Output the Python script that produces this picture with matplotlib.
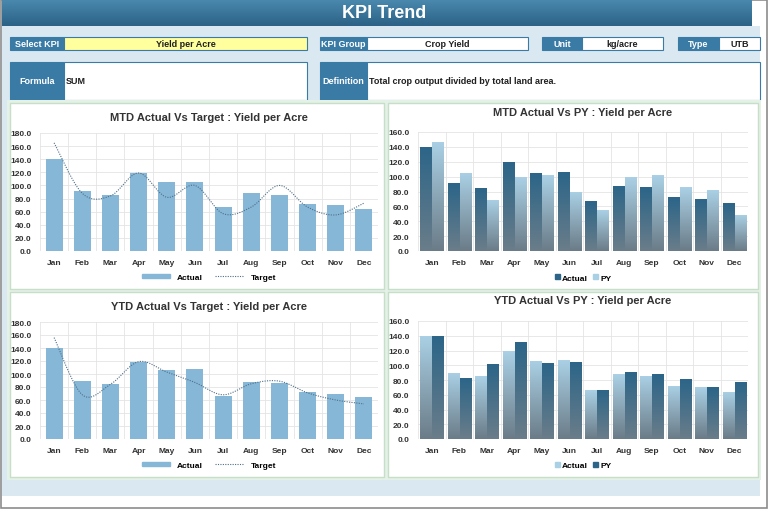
import numpy as np
import matplotlib

matplotlib.use("Agg")
import matplotlib.pyplot as plt
from matplotlib.patches import Rectangle
from matplotlib.lines import Line2D

plt.rcParams["font.family"] = ["Liberation Sans Narrow", "Liberation Sans", "DejaVu Sans"]

W, H = 768, 510

months = ["Jan", "Feb", "Mar", "Apr", "May", "Jun", "Jul", "Aug", "Sep", "Oct", "Nov", "Dec"]

mtd_actual = [140, 91, 85, 119, 105, 106, 67, 88, 86, 72, 70, 64]
mtd_target = [165, 88, 84, 119, 82, 100, 57, 67, 100, 67, 55, 73]
mtd_py = [147, 105, 69, 99, 102, 80, 55, 99, 102, 86, 82, 49]

ytd_actual = [140, 90, 85, 119, 106, 107, 66, 88, 86, 72, 70, 64]
ytd_target = [156, 68, 84, 119, 103, 87, 68, 85, 89, 71, 60, 54]
ytd_py = [140, 83, 102, 131, 103, 105, 67, 91, 88, 81, 70, 77]

kpi_name = "Yield per Acre"
kpi_group = "Crop Yield"
kpi_unit = "kg/acre"
kpi_type = "UTB"
kpi_formula = "SUM"
kpi_definition = "Total crop output divided by total land area."

HEAD_BLUE = "#3A7BA6"
BAR_LIGHT = "#86B7D6"
DARK_TOP, DARK_BOT = "#2C6588", "#6A7D8A"
LIGHT_TOP, LIGHT_BOT = "#AAD0E5", "#6B7C88"
TEXT = "#333333"


def frac(x0, y0, x1, y1):
    return [x0 / W, 1 - y1 / H, (x1 - x0) / W, (y1 - y0) / H]


def smooth(xs, ys, n=24):
    # excel-like smoothed line (catmull-rom as bezier)
    p = np.column_stack([xs, ys]).astype(float)
    pts = [p[0]]
    for i in range(len(p) - 1):
        p0 = p[i - 1] if i > 0 else p[i]
        p3 = p[i + 2] if i + 2 < len(p) else p[i + 1]
        c1 = p[i] + (p[i + 1] - p0) / 6
        c2 = p[i + 1] - (p3 - p[i]) / 6
        t = np.linspace(0, 1, n)[1:, None]
        seg = ((1 - t) ** 3) * p[i] + 3 * ((1 - t) ** 2) * t * c1 + 3 * (1 - t) * t ** 2 * c2 + t ** 3 * p[i + 1]
        pts.extend(seg)
    pts = np.array(pts)
    return pts[:, 0], pts[:, 1]


def gradient_bars(ax, x, heights, width, top, bot):
    bars = ax.bar(x, heights, width=width, color="none", edgecolor="none", zorder=3)
    cmap = matplotlib.colors.LinearSegmentedColormap.from_list("g", [bot, top])
    grad = np.linspace(0, 1, 64).reshape(-1, 1)
    for b in bars:
        x0, w, h = b.get_x(), b.get_width(), b.get_height()
        im = ax.imshow(grad, cmap=cmap, aspect="auto", origin="lower",
                       extent=(x0, x0 + w, 0, h), zorder=3)
        im.set_clip_path(b)
    return bars


def style_axes(ax, ymax):
    ax.set_xlim(-0.5, 11.5)
    ax.set_ylim(0, ymax)
    ax.set_yticks(np.arange(0, ymax + 1, 20))
    ax.set_yticklabels([f"{v:.1f}" for v in np.arange(0, ymax + 1, 20)])
    ax.set_xticks(range(12))
    ax.set_xticklabels(months)
    ax.set_xticks(np.arange(-0.5, 12, 1), minor=True)
    ax.grid(True, which="minor", axis="x", color="#E4E4E4", lw=0.6, zorder=0)
    ax.grid(True, which="major", axis="y", color="#E4E4E4", lw=0.6, zorder=0)
    ax.tick_params(which="both", length=0, labelsize=6, colors=TEXT, pad=6)
    for lab in ax.get_xticklabels() + ax.get_yticklabels():
        lab.set_fontweight("bold")
    for s in ax.spines.values():
        s.set_visible(False)
    ax.axhline(0, color="#D9D9D9", lw=0.7, zorder=2)
    ax.set_facecolor("white")


def target_chart(rect, title, actual, target, title_pad):
    ax = fig.add_axes(frac(*rect))
    style_axes(ax, 180)
    x = np.arange(12)
    ax.bar(x, actual, width=0.6, color=BAR_LIGHT, zorder=3)
    sx, sy = smooth(x, target)
    ax.plot(sx, sy, ls=(0, (1, 1.2)), lw=0.8, color="#4F6F88", zorder=4)
    ax.set_title(title, fontsize=8, fontweight="bold", color=TEXT, pad=title_pad)
    handles = [Rectangle((0, 0), 1, 1, color=BAR_LIGHT),
               Line2D([0], [0], ls=(0, (1, 1.2)), lw=0.8, color="#4F6F88")]
    ax.legend(handles, ["Actual", "Target"], loc="upper center", bbox_to_anchor=(0.5, -0.13),
              ncol=2, frameon=False, handlelength=3.4, handleheight=0.4,
              columnspacing=1.5, prop={"weight": "bold", "size": 6})
    return ax


def py_chart(rect, title, actual, py, a_cols, p_cols, title_pad):
    ax = fig.add_axes(frac(*rect))
    style_axes(ax, 160)
    x = np.arange(12)
    w = 0.41
    gradient_bars(ax, x - w / 2 - 0.01, actual, w, *a_cols)
    gradient_bars(ax, x + w / 2 + 0.01, py, w, *p_cols)
    ax.set_title(title, fontsize=8, fontweight="bold", color=TEXT, pad=title_pad)
    handles = [Rectangle((0, 0), 1, 1, color=a_cols[0]), Rectangle((0, 0), 1, 1, color=p_cols[0])]
    ax.legend(handles, ["Actual", "PY"], loc="upper center", bbox_to_anchor=(0.5, -0.13),
              ncol=2, frameon=False, handlelength=0.6, handleheight=0.6, handletextpad=0.3,
              columnspacing=0.6, prop={"weight": "bold", "size": 6})
    return ax


fig = plt.figure(figsize=(W / 100, H / 100), dpi=100, facecolor="white")
bg = fig.add_axes([0, 0, 1, 1])
bg.set_xlim(0, W)
bg.set_ylim(H, 0)
bg.axis("off")

# frame and light blue panel
bg.add_patch(Rectangle((0.5, 0.5), W - 1.5, H - 1.5, fill=False, ec="#8C8C8C", lw=1.2))
bg.add_patch(Rectangle((2, 27), 758, 470, fc="#DAE9F1", ec="none"))

# title bar with gradient
hdr = matplotlib.colors.LinearSegmentedColormap.from_list("h", ["#4A88AD", "#2B6286"])
bg.imshow(np.linspace(0, 1, 32).reshape(-1, 1), cmap=hdr, aspect="auto",
          extent=(2, 752, 27, 1), zorder=1)
bg.set_xlim(0, W)
bg.set_ylim(H, 0)
bg.text(384, 14, "KPI Trend", ha="center", va="center", color="white",
        fontsize=13, fontweight="bold", zorder=2)


def info(x0, xm, x1, y0, y1, label, value, fc="white", align="center"):
    bg.add_patch(Rectangle((x0, y0), xm - x0, y1 - y0, fc=HEAD_BLUE, ec=HEAD_BLUE, lw=0.8))
    bg.add_patch(Rectangle((xm, y0), x1 - xm, y1 - y0, fc=fc, ec=HEAD_BLUE, lw=0.8))
    yc = (y0 + y1) / 2
    bg.text((x0 + xm) / 2, yc, label, ha="center", va="center", color="white",
            fontsize=6.5, fontweight="bold")
    if align == "center":
        bg.text((xm + x1) / 2, yc, value, ha="center", va="center", color="#1F1F1F",
                fontsize=6.5, fontweight="bold")
    else:
        bg.text(xm + 2, yc, value, ha="left", va="center", color="#1F1F1F",
                fontsize=6.5, fontweight="bold")


info(10, 64, 307, 38, 51, "Select KPI", kpi_name, fc="#FFFF9E")
info(320, 367, 528, 38, 51, "KPI Group", kpi_group)
info(542, 582, 663, 38, 51, "Unit", kpi_unit)
info(678, 719, 760, 38, 51, "Type", kpi_type)
info(10, 64, 307, 63, 101, "Formula", kpi_formula, align="left")
info(320, 367, 760, 63, 101, "Definition", kpi_definition, align="left")

# chart panels
bg.add_patch(Rectangle((7, 101), 754, 380, fc="#E4F1E6", ec="none"))
for (x0, y0, x1, y1) in [(10, 104, 384, 290), (388, 104, 758, 290),
                         (10, 293, 384, 478), (388, 293, 758, 478)]:
    bg.add_patch(Rectangle((x0, y0), x1 - x0, y1 - y0, fc="white", ec="#C6DFC8", lw=1.0))

target_chart((40, 134, 378, 252), "MTD Actual Vs Target : Yield per Acre",
             mtd_actual, mtd_target, 9)
py_chart((418, 133, 748, 252), "MTD Actual Vs PY : Yield per Acre",
         mtd_actual, mtd_py, (DARK_TOP, DARK_BOT), (LIGHT_TOP, LIGHT_BOT), 12.5)
target_chart((40, 323, 378, 440), "YTD Actual Vs Target : Yield per Acre",
             ytd_actual, ytd_target, 9.5)
py_chart((418, 322, 748, 440), "YTD Actual Vs PY : Yield per Acre",
         ytd_actual, ytd_py, (LIGHT_TOP, LIGHT_BOT), (DARK_TOP, DARK_BOT), 13)

fig.savefig("out.png", dpi=100, facecolor="white")
